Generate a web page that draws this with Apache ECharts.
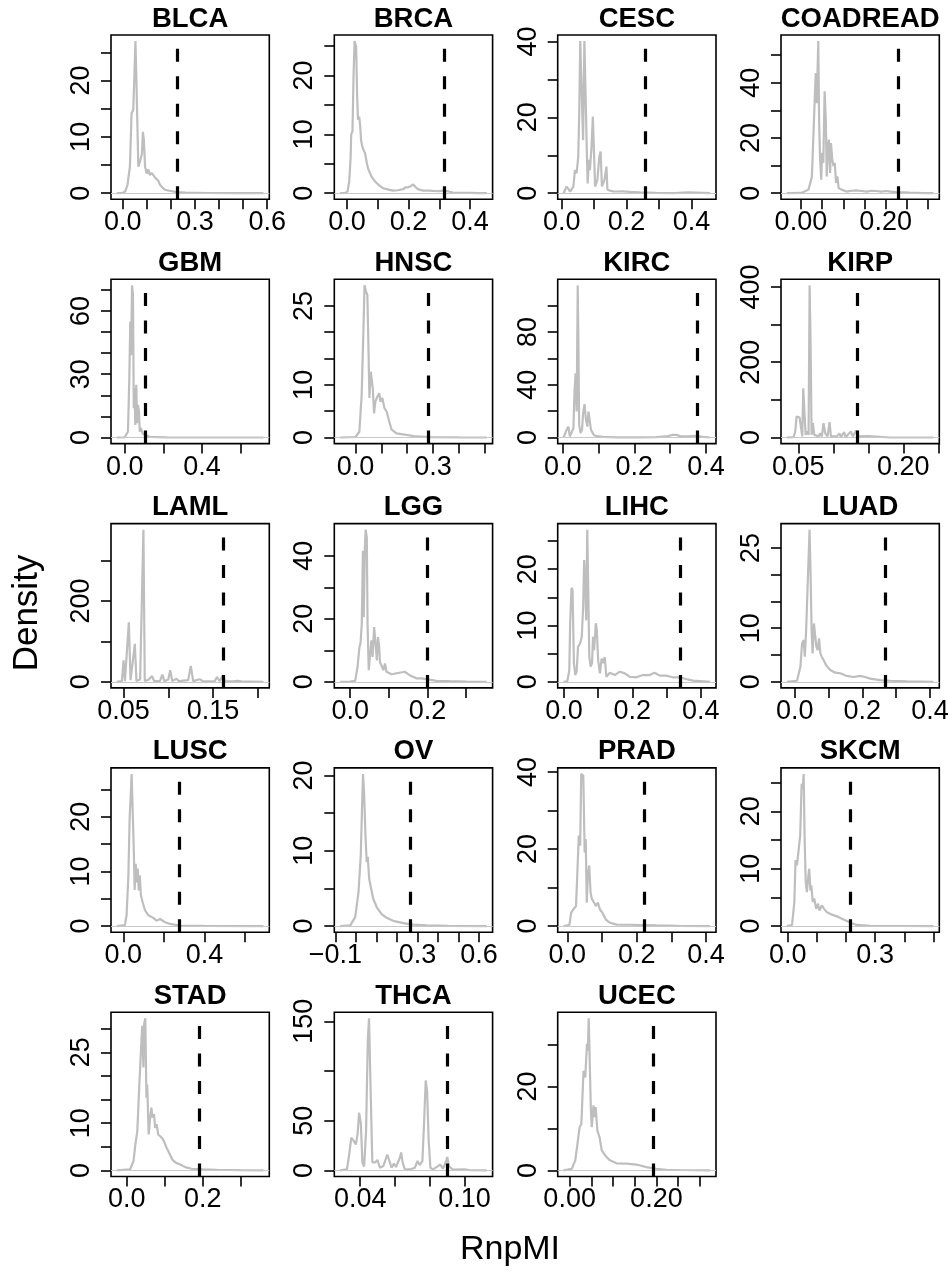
<!DOCTYPE html>
<html><head><meta charset="utf-8">
<script src="https://cdn.jsdelivr.net/npm/echarts@6/dist/echarts.min.js"></script>
<style>html,body{margin:0;padding:0;background:#fff}#c{width:948px;height:1271px}</style>
</head><body><div id="c"></div>
<script>
// ---------------- DATA ----------------
const cancers = ['BLCA','BRCA','CESC','COADREAD','GBM','HNSC','KIRC','KIRP','LAML','LGG','LIHC','LUAD','LUSC','OV','PRAD','SKCM','STAD','THCA','UCEC'];
const thresholds = [0.227,0.317,0.259,0.2305,0.1086,0.282,0.376,0.134,0.1619,0.1997,0.34,0.269,0.275,0.266,0.221,0.2144,0.19,0.0899,0.193];

const BLCA = [[-0.0241,0],[0.0,0.05],[0.01,0.3],[0.02,1.5],[0.03,4.7],[0.037,14.2],[0.044,14.8],[0.048,20],[0.053,27.0],[0.056,21.9],[0.061,21.6],[0.065,4.7],[0.072,5.6],[0.080,7],[0.084,10.9],[0.088,9.5],[0.093,4.7],[0.10,3.5],[0.107,4.2],[0.113,3.2],[0.12,3.6],[0.127,3.5],[0.134,2.8],[0.141,3],[0.148,2.2],[0.155,1.5],[0.165,1.0],[0.176,0.6],[0.2,0.4],[0.224,0.2],[0.26,0.1],[0.35,0.04],[0.45,0.02],[0.5843,0]];
const BRCA = [[-0.0219,0],[-0.005,0.05],[0.002,0.3],[0.0075,2],[0.012,6],[0.014,10],[0.018,10.5],[0.0215,20],[0.025,25.85],[0.030,24.9],[0.033,17],[0.036,12.5],[0.04,13],[0.043,11.5],[0.046,9],[0.05,7.9],[0.055,7.2],[0.059,6.8],[0.065,5],[0.07,4],[0.08,2.8],[0.09,2.1],[0.097,1.7],[0.108,1.2],[0.118,0.85],[0.135,0.6],[0.15,0.45],[0.165,0.5],[0.183,0.7],[0.19,1.0],[0.199,1.0],[0.207,1.2],[0.215,1.5],[0.222,1.1],[0.23,0.7],[0.247,0.45],[0.265,0.45],[0.28,0.4],[0.3,0.35],[0.312,0.45],[0.33,0.3],[0.344,0.1],[0.37,0.06],[0.398,0.05],[0.43,0.02],[0.454,0]];
const CESC = [[0.0058,0],[0.01,0.2],[0.015,1.75],[0.02,1.2],[0.026,0.4],[0.031,0.8],[0.036,1.75],[0.041,6.1],[0.046,5.3],[0.051,9.6],[0.054,20.6],[0.0573,40.1],[0.062,40.1],[0.066,14],[0.070,40.1],[0.0747,40.1],[0.077,13],[0.08,2.6],[0.084,8.8],[0.087,6.1],[0.092,12.3],[0.096,20.2],[0.1,20],[0.103,1.75],[0.11,3.5],[0.116,9.6],[0.12,11],[0.124,1.8],[0.128,2.2],[0.132,3.5],[0.138,7],[0.141,0.9],[0.148,0.7],[0.16,0.5],[0.169,0.45],[0.189,0.5],[0.21,0.35],[0.24,0.2],[0.29,0.1],[0.35,0.05],[0.39,0.2],[0.435,0.1],[0.4576,0]];
const COADREAD = [[-0.0331,0],[0,0.1],[0.006,0.4],[0.018,1.3],[0.026,6],[0.031,27],[0.035,43.5],[0.0375,32.6],[0.041,55.1],[0.043,26.6],[0.045,13.4],[0.048,4.9],[0.05,14.6],[0.053,11],[0.056,36.9],[0.059,25.4],[0.061,6.1],[0.064,17],[0.066,19.4],[0.069,7.3],[0.071,18.2],[0.074,12.2],[0.077,9.8],[0.08,11],[0.083,3.7],[0.086,6.1],[0.089,1.9],[0.096,1.3],[0.108,0.6],[0.12,0.9],[0.131,1.0],[0.143,0.8],[0.155,0.6],[0.167,0.9],[0.178,0.8],[0.19,0.6],[0.2,0.8],[0.212,0.6],[0.225,0.4],[0.256,0.2],[0.29,0.05],[0.3128,0]];
const GBM = [[-0.0404,0],[0,0.1],[0.007,0.5],[0.017,2.8],[0.024,28],[0.029,55],[0.033,39],[0.038,72.1],[0.043,67.6],[0.047,13.9],[0.05,23.4],[0.055,6],[0.06,25],[0.064,6.8],[0.069,15.5],[0.074,12.3],[0.078,2.8],[0.084,4.4],[0.093,2],[0.105,1],[0.131,0.3],[0.217,0.05],[0.4,0.01],[0.7177,0]];
const HNSC = [[-0.0593,0],[0,0.1],[0.015,1.1],[0.024,8.1],[0.031,20.8],[0.035,28.9],[0.041,27.7],[0.046,27.1],[0.05,17.7],[0.054,7.5],[0.059,12.5],[0.063,12.8],[0.067,9.4],[0.072,4.6],[0.077,6.8],[0.085,7.8],[0.092,8.4],[0.097,6.8],[0.104,7.5],[0.112,5.6],[0.121,4.9],[0.131,3],[0.14,1.5],[0.159,0.8],[0.197,0.5],[0.236,0.2],[0.287,0.06],[0.4,0.02],[0.5083,0]];
const KIRC = [[0.0025,0],[0.0065,0.8],[0.011,5.8],[0.016,8.3],[0.02,0.8],[0.025,2],[0.03,7],[0.033,34.8],[0.036,48.7],[0.039,19.7],[0.042,115.4],[0.044,70],[0.046,9.6],[0.05,3.3],[0.054,5.8],[0.057,18.4],[0.061,25.3],[0.065,13.4],[0.069,8.3],[0.072,19.7],[0.075,20.2],[0.079,5.8],[0.083,4.5],[0.087,2],[0.094,1],[0.113,0.5],[0.15,0.1],[0.215,0.05],[0.261,0.3],[0.289,0.8],[0.307,2],[0.317,2],[0.331,0.8],[0.354,1],[0.372,1.3],[0.391,0.5],[0.4114,0]];
const KIRP = [[0.0337,0],[0.0433,1],[0.0457,16],[0.0476,56],[0.0495,51],[0.0519,53],[0.0543,50],[0.0557,3],[0.0571,131],[0.059,135],[0.0605,7],[0.0624,16],[0.0647,7],[0.0662,404],[0.0676,246],[0.069,7],[0.0709,38],[0.0728,7],[0.079,3],[0.0814,11],[0.0837,3],[0.0861,38],[0.0885,11],[0.0918,3],[0.0947,41],[0.0966,3],[0.1051,3],[0.1089,11],[0.1108,1],[0.1156,14],[0.1175,1],[0.125,16],[0.1279,3],[0.1326,18.6],[0.1355,3],[0.15,3.5],[0.1526,0.5],[0.181,0.1],[0.243,0]];
const LAML = [[0.0425,0],[0.0481,1.6],[0.05,53],[0.0515,1.6],[0.0537,4],[0.0559,147],[0.0578,4],[0.0596,2],[0.0626,94],[0.0644,2],[0.0685,5.7],[0.0722,376],[0.0737,2],[0.0778,5],[0.0819,14],[0.0841,1.6],[0.0907,2],[0.0933,18],[0.0956,1.6],[0.1,5.5],[0.1022,28.7],[0.1044,1.6],[0.1093,8],[0.1115,1.6],[0.1222,4],[0.1252,39],[0.1278,1.6],[0.1352,6.5],[0.1389,1],[0.1519,1.6],[0.1544,12],[0.1574,1.6],[0.1611,16],[0.1633,1.6],[0.1722,1],[0.1778,2.5],[0.1815,1],[0.2064,0]];
const LGG = [[-0.0259,0],[0,0.05],[0.013,0.3],[0.019,4.7],[0.024,11],[0.027,12.6],[0.03,18.4],[0.033,41.6],[0.035,20.5],[0.038,42.6],[0.04,48.3],[0.043,45.8],[0.045,18.4],[0.048,3.7],[0.051,7.9],[0.055,13.2],[0.058,7.9],[0.062,17.4],[0.065,13.2],[0.069,6.8],[0.072,14.2],[0.075,11],[0.077,6.3],[0.081,5.8],[0.086,3.7],[0.09,5.8],[0.094,3.2],[0.107,2.4],[0.124,2.8],[0.141,3.2],[0.154,2.1],[0.171,1.1],[0.184,1.1],[0.201,0.8],[0.223,0.3],[0.257,0.2],[0.3,0.1],[0.3533,0]];
const LIHC = [[-0.0013,0],[0.0097,0.1],[0.0155,2.1],[0.018,10.4],[0.022,16.7],[0.025,16.3],[0.029,3.3],[0.033,1.2],[0.037,1.8],[0.041,6.2],[0.047,6.8],[0.052,8],[0.056,13.3],[0.059,21.6],[0.062,17.5],[0.065,10.9],[0.068,27.0],[0.071,16.3],[0.074,4.4],[0.078,2.7],[0.082,3.3],[0.085,8],[0.088,5.6],[0.093,10.4],[0.096,9.2],[0.1,3.8],[0.105,1.5],[0.11,4.1],[0.115,3.3],[0.119,4.4],[0.124,0.9],[0.134,1.6],[0.149,1.2],[0.163,1.8],[0.178,1.5],[0.192,0.9],[0.212,0.8],[0.231,1.2],[0.25,1.2],[0.265,1.6],[0.28,1.1],[0.299,1.1],[0.318,0.8],[0.338,0.8],[0.357,0.5],[0.377,0.2],[0.4276,0]];
const LUAD = [[-0.023,0],[0.007,0.2],[0.017,2.8],[0.022,7.2],[0.027,7.8],[0.03,4.7],[0.034,9.7],[0.038,17.2],[0.041,22.8],[0.044,28.4],[0.047,20.3],[0.05,9.7],[0.053,5.3],[0.057,10.9],[0.061,10.6],[0.064,6.6],[0.068,5.9],[0.072,8.1],[0.076,5.3],[0.08,4.7],[0.085,4.1],[0.093,3.1],[0.105,2.2],[0.12,1.7],[0.135,1.6],[0.154,1.1],[0.174,0.9],[0.194,1.1],[0.208,0.9],[0.223,0.6],[0.252,0.3],[0.282,0.2],[0.331,0.1],[0.41,0]];
const LUSC = [[-0.0319,0],[0.008,0.2],[0.016,2],[0.025,9.3],[0.031,19.6],[0.036,23.6],[0.041,27.8],[0.046,27.6],[0.051,14.8],[0.056,6.6],[0.061,11.4],[0.066,8],[0.071,10.5],[0.076,6.5],[0.081,9.3],[0.087,5.6],[0.095,4.4],[0.107,2.9],[0.123,2],[0.148,1.5],[0.164,1],[0.181,1.3],[0.189,1.6],[0.206,0.7],[0.23,0.4],[0.28,0.1],[0.4,0.03],[0.6911,0]];
const OV = [[-0.0763,0],[-0.027,0.1],[-0.003,1.2],[0.013,4.5],[0.024,9.4],[0.031,16.5],[0.035,20.2],[0.04,17.8],[0.047,12],[0.053,8.5],[0.058,9.2],[0.065,6.3],[0.073,5.2],[0.085,3.6],[0.102,2.5],[0.126,1.6],[0.15,1.1],[0.182,0.7],[0.231,0.4],[0.279,0.2],[0.344,0.1],[0.45,0.03],[0.6375,0]];
const PRAD = [[-0.0109,0],[0.006,0.3],[0.011,3.5],[0.017,4.3],[0.025,5.2],[0.03,16.5],[0.033,23.5],[0.037,20.9],[0.04,39.5],[0.046,39.1],[0.05,19.1],[0.053,22.6],[0.056,6.1],[0.059,13],[0.063,15.7],[0.067,8.7],[0.071,7],[0.077,6.1],[0.082,5.2],[0.088,6.1],[0.094,4.3],[0.101,3.5],[0.111,1.7],[0.122,0.9],[0.142,0.4],[0.18,0.35],[0.218,0.26],[0.256,0.17],[0.32,0.05],[0.4118,0]];
const SKCM = [[-0.0027,0],[0.015,0.2],[0.023,4.2],[0.027,11.5],[0.032,10.6],[0.038,10.3],[0.043,15.8],[0.048,24.8],[0.051,24],[0.055,26.5],[0.058,15.8],[0.062,7.7],[0.066,5.9],[0.071,8.8],[0.074,10],[0.078,6.2],[0.081,7.1],[0.086,4.2],[0.091,4.8],[0.098,3],[0.104,3.9],[0.109,2.7],[0.117,3.6],[0.125,3],[0.135,2.4],[0.152,2],[0.169,1.7],[0.186,1.3],[0.203,0.9],[0.22,0.5],[0.237,0.2],[0.283,0.06],[0.4999,0]];
const STAD = [[-0.0258,0],[0.009,0.2],[0.018,2],[0.023,5.5],[0.028,8.3],[0.033,17.5],[0.038,26],[0.041,30.6],[0.044,21.8],[0.046,31],[0.049,32.2],[0.052,15.4],[0.054,18.2],[0.058,7.6],[0.061,10.5],[0.065,13.3],[0.068,11.2],[0.072,11.9],[0.075,9],[0.079,9.8],[0.083,7.6],[0.088,8],[0.093,6.9],[0.098,6.2],[0.105,4.8],[0.112,3.7],[0.12,2.3],[0.13,1.6],[0.14,1.3],[0.154,0.7],[0.171,0.35],[0.202,0.2],[0.237,0.14],[0.3,0.05],[0.36,0]];
const THCA = [[0.0285,0],[0.0324,1],[0.0337,16],[0.0349,33],[0.0362,30],[0.0375,26],[0.0385,36],[0.0394,58],[0.0404,47],[0.0413,8],[0.0423,4],[0.0434,40],[0.0444,131],[0.0451,153],[0.0461,74],[0.047,8],[0.0486,8],[0.0499,10.5],[0.0514,2.7],[0.0533,4.4],[0.0556,16],[0.0568,9.5],[0.0581,2.7],[0.0594,6.8],[0.0606,3.4],[0.0629,13],[0.0636,18],[0.0644,8],[0.0657,1],[0.0686,1],[0.0714,2.7],[0.073,9.5],[0.0743,5.4],[0.0758,9.5],[0.0768,50],[0.0777,90.5],[0.0785,80],[0.0794,30],[0.0804,2.7],[0.0819,1],[0.0848,4.4],[0.0861,6],[0.0876,1.7],[0.0895,9.5],[0.0901,13.5],[0.091,4.4],[0.0933,0.7],[0.1,1],[0.1029,0.3],[0.1128,0]];
const UCEC = [[-0.014,0],[0.005,0.4],[0.013,2.4],[0.018,6.3],[0.023,10.3],[0.027,11.1],[0.032,23.8],[0.036,22.2],[0.04,30.2],[0.042,28.6],[0.044,36.3],[0.047,23],[0.049,14.3],[0.051,10.3],[0.055,15.5],[0.058,12.7],[0.06,15.1],[0.064,9.5],[0.069,7.9],[0.074,4.8],[0.079,4],[0.085,3.2],[0.093,2.4],[0.108,1.7],[0.131,1.6],[0.154,1.4],[0.177,0.8],[0.2,0.4],[0.223,0.15],[0.253,0.1],[0.3239,0]];
const curves = [BLCA,BRCA,CESC,COADREAD,GBM,HNSC,KIRC,KIRP,LAML,LGG,LIHC,LUAD,LUSC,OV,PRAD,SKCM,STAD,THCA,UCEC];

// x-axis tick positions and labelled ticks
const xTicks = [
 [0,0.1,0.2,0.3,0.4,0.5,0.6],[0,0.1,0.2,0.3,0.4],[0,0.1,0.2,0.3,0.4],[0,0.05,0.1,0.15,0.2,0.25,0.3],
 [0,0.2,0.4,0.6],[0,0.1,0.2,0.3,0.4,0.5],[0,0.1,0.2,0.3,0.4],[0.05,0.1,0.15,0.2,0.25],
 [0.05,0.1,0.15,0.2],[0,0.1,0.2,0.3],[0,0.1,0.2,0.3,0.4],[0,0.1,0.2,0.3,0.4],
 [0,0.2,0.4,0.6],[-0.1,0,0.1,0.2,0.3,0.4,0.5,0.6],[0,0.1,0.2,0.3,0.4],[0,0.1,0.2,0.3,0.4,0.5],
 [0,0.1,0.2,0.3],[0.04,0.06,0.08,0.1],[0,0.05,0.1,0.15,0.2,0.25,0.3]];
const xLabelValues = [
 [0,0.3,0.6],[0,0.2,0.4],[0,0.2,0.4],[0,0.2],
 [0,0.4],[0,0.3],[0,0.2,0.4],[0.05,0.2],
 [0.05,0.15],[0,0.2],[0,0.2,0.4],[0,0.2,0.4],
 [0,0.4],[-0.1,0.3,0.6],[0,0.2,0.4],[0,0.3],
 [0,0.2],[0.04,0.1],[0,0.2]];
const xLabelTexts = [
 ['0.0','0.3','0.6'],['0.0','0.2','0.4'],['0.0','0.2','0.4'],['0.00','0.20'],
 ['0.0','0.4'],['0.0','0.3'],['0.0','0.2','0.4'],['0.05','0.20'],
 ['0.05','0.15'],['0.0','0.2'],['0.0','0.2','0.4'],['0.0','0.2','0.4'],
 ['0.0','0.4'],['\u22120.1','0.3','0.6'],['0.0','0.2','0.4'],['0.0','0.3'],
 ['0.0','0.2'],['0.04','0.10'],['0.00','0.20']];
const yTicks = [
 [0,5,10,15,20,25],[0,5,10,15,20,25],[0,10,20,30,40],[0,10,20,30,40,50],
 [0,10,20,30,40,50,60,70],[0,5,10,15,20,25],[0,20,40,60,80,100],[0,100,200,300,400],
 [0,100,200,300],[0,10,20,30,40],[0,5,10,15,20,25],[0,5,10,15,20,25],
 [0,5,10,15,20,25],[0,5,10,15,20],[0,10,20,30,40],[0,5,10,15,20,25],
 [0,5,10,15,20,25,30],[0,50,100,150],[0,10,20,30]];
const yLabelValues = [
 [0,10,20],[0,10,20],[0,20,40],[0,20,40],
 [0,30,60],[0,10,25],[0,40,80],[0,200,400],
 [0,200],[0,20,40],[0,10,20],[0,10,25],
 [0,10,20],[0,10,20],[0,20,40],[0,10,20],
 [0,10,25],[0,50,150],[0,20]];

// ---------------- LAYOUT ----------------
const FONT = "'Liberation Sans', Arial, Helvetica, sans-serif";
const colLeft = [111, 334.3, 557.7, 781];
const rowTop = [35, 279.3, 523.6, 767.9, 1012.2];
const boxW = 158.3, boxH = 164.3;

const grids = [], xAxes = [], yAxes = [], series = [], graphics = [];
cancers.forEach((name, i) => {
  const col = i % 4, row = Math.floor(i / 4);
  const left = colLeft[col], top = rowTop[row];
  const pts = curves[i];
  const lo = pts[0][0], hi = pts[pts.length - 1][0];
  const padX = 0.04 * (hi - lo);
  const xmin = lo - padX, xmax = hi + padX;
  const peak = Math.max(...pts.map(p => p[1]));
  const ymin = -0.04 * peak, ymax = 1.04 * peak;

  grids.push({left, top, width: boxW, height: boxH, show: true, borderColor: '#000', borderWidth: 1.6,
    backgroundColor: 'transparent', containLabel: false, outerBoundsMode: 'none'});

  const xl = xLabelValues[i], xt = xLabelTexts[i];
  xAxes.push({gridIndex: i, type: 'value', min: xmin, max: xmax, position: 'bottom',
    axisLine: {show: false, onZero: false}, splitLine: {show: false},
    axisTick: {show: true, inside: false, length: 10, lineStyle: {color: '#000', width: 1.6}, customValues: xTicks[i]},
    axisLabel: {show: true, customValues: xl, margin: 10, color: '#000', fontSize: 27, fontFamily: FONT,
      formatter: v => { const k = xl.findIndex(t => Math.abs(t - v) < 1e-9); return k >= 0 ? xt[k] : ''; }}});

  yAxes.push({gridIndex: i, type: 'value', min: ymin, max: ymax, position: 'left',
    axisLine: {show: false, onZero: false}, splitLine: {show: false},
    axisTick: {show: true, inside: false, length: 10, lineStyle: {color: '#000', width: 1.6}, customValues: yTicks[i]},
    axisLabel: {show: true, customValues: yLabelValues[i], rotate: 90, margin: 16, color: '#000', fontSize: 27, fontFamily: FONT,
      formatter: v => String(Math.round(v))}});

  series.push({type: 'line', xAxisIndex: i, yAxisIndex: i, data: pts, showSymbol: false, symbol: 'none',
    silent: true, animation: false, lineStyle: {color: '#BEBEBE', width: 2.2}, z: 2,
    markLine: {silent: true, animation: false, symbol: ['none', 'none'], label: {show: false}, emphasis: {disabled: true},
      data: [
        [{coord: [xmin, 0], lineStyle: {color: '#C8C8C8', width: 1, type: 'solid'}}, {coord: [xmax, 0]}],
        [{coord: [thresholds[i], ymin], lineStyle: {color: '#000', width: 3.2, type: [13, 14.5], cap: 'butt'}}, {coord: [thresholds[i], ymax]}]
      ]}});

  graphics.push({type: 'text', x: left + boxW / 2, y: top - 16,
    style: {text: name, fontSize: 27.5, fontWeight: 'bold', fontFamily: FONT, fill: '#000', align: 'center', verticalAlign: 'middle'}});
});

graphics.push({type: 'text', x: 27, y: 613, rotation: Math.PI / 2,
  style: {text: 'Density', fontSize: 35, fontFamily: FONT, fill: '#000', align: 'center', verticalAlign: 'middle'}});
graphics.push({type: 'text', x: 510, y: 1250,
  style: {text: 'RnpMI', fontSize: 34, fontFamily: FONT, fill: '#000', align: 'center', verticalAlign: 'middle'}});

const chart = echarts.init(document.getElementById('c'), null, {renderer: 'canvas'});
chart.setOption({
  animation: false,
  backgroundColor: '#fff',
  grid: grids, xAxis: xAxes, yAxis: yAxes, series: series, graphic: graphics
});
</script></body></html>
